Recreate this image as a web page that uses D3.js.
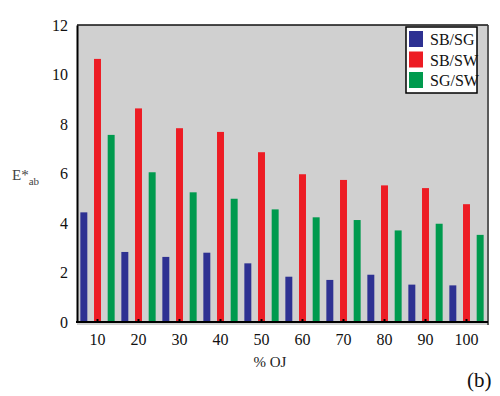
<!DOCTYPE html>
<html>
<head>
<meta charset="utf-8">
<script src="https://cdn.jsdelivr.net/npm/d3@7/dist/d3.min.js"></script>
<style>
  html, body { margin: 0; padding: 0; background: #fff; }
  svg text { font-family: "Liberation Serif", "Times New Roman", serif; }
</style>
</head>
<body>
<svg id="chart" width="500" height="396"></svg>
<script>
// Colour difference per orange-juice concentration
const categories = ["10", "20", "30", "40", "50", "60", "70", "80", "90", "100"];
const seriesNames = ["SB/SG", "SB/SW", "SG/SW"];
const sbsg = [4.43, 2.83, 2.63, 2.80, 2.37, 1.83, 1.70, 1.91, 1.51, 1.48];
const sbsw = [10.63, 8.63, 7.83, 7.68, 6.86, 5.97, 5.74, 5.52, 5.41, 4.76];
const sgsw = [7.56, 6.05, 5.24, 4.98, 4.55, 4.23, 4.12, 3.70, 3.97, 3.52];
const yTicks = [0, 2, 4, 6, 8, 10, 12];
const colors = ["#2e3192", "#ed1c24", "#009a4e"];

const seriesValues = [sbsg, sbsw, sgsw];
const rows = categories.map((c, i) => ({
  cat: c,
  values: seriesNames.map((s, k) => ({ key: s, value: seriesValues[k][i] }))
}));

const svg = d3.select("#chart");
const m = { left: 77, right: 487, top: 25, bottom: 322 };

const x = d3.scaleBand().domain(categories).range([m.left, m.right]).padding(0);
const xInner = d3.scaleBand().domain(seriesNames).range([0, x.bandwidth()])
  .paddingInner(0.49).paddingOuter(0.245);
const y = d3.scaleLinear().domain([0, 12]).range([m.bottom, m.top]);
const color = d3.scaleOrdinal().domain(seriesNames).range(colors);

// plot background
svg.append("rect")
  .attr("x", m.left).attr("y", m.top)
  .attr("width", m.right - m.left + 2).attr("height", m.bottom - m.top + 3)
  .attr("fill", "#d0d0d0");

// bars
svg.append("g").selectAll("g")
  .data(rows).join("g")
  .attr("transform", d => `translate(${x(d.cat)},0)`)
  .selectAll("rect")
  .data(d => d.values).join("rect")
  .attr("x", d => xInner(d.key))
  .attr("width", xInner.bandwidth())
  .attr("y", d => y(d.value))
  .attr("height", d => y(0) - y(d.value))
  .attr("fill", d => color(d.key));

// frame
svg.append("line").attr("x1", m.left).attr("x2", m.right + 1)
  .attr("y1", m.top).attr("y2", m.top).attr("stroke", "#111").attr("stroke-width", 1.5);
svg.append("line").attr("x1", m.right + 1).attr("x2", m.right + 1)
  .attr("y1", m.top).attr("y2", m.bottom + 3).attr("stroke", "#333").attr("stroke-width", 1.5);

// y axis
const yAxis = d3.axisLeft(y).tickValues(yTicks).tickSize(0).tickPadding(9);
const gy = svg.append("g").attr("transform", `translate(${m.left},0)`).call(yAxis)
  .attr("font-family", null);
gy.select(".domain").attr("stroke", "#000").attr("stroke-width", 2);
gy.selectAll("text").style("font-size", "16px").attr("fill", "#111");

// x axis with small inward ticks
const xAxis = d3.axisBottom(x).tickSize(-3).tickPadding(12);
const gx = svg.append("g").attr("transform", `translate(0,${m.bottom})`).call(xAxis)
  .attr("font-family", null);
gx.select(".domain").attr("stroke", "#000").attr("stroke-width", 2)
  .attr("d", `M${m.left - 1},0H${m.right + 1}`);
gx.selectAll(".tick line").attr("stroke", "#000").attr("stroke-width", 2);
gx.selectAll("text").style("font-size", "16px").attr("fill", "#111");

// axis titles
svg.append("text").attr("x", 270).attr("y", 367).attr("text-anchor", "middle")
  .style("font-size", "15px").attr("fill", "#222").text("% OJ");

const yl = svg.append("text").attr("x", 12).attr("y", 180)
  .style("font-size", "15px").attr("fill", "#444");
yl.append("tspan").text("E*");
yl.append("tspan").attr("dy", 5).style("font-size", "11px").text("ab");

svg.append("text").attr("x", 467).attr("y", 387)
  .style("font-size", "21px").attr("fill", "#111").text("(b)");

// legend
const lg = svg.append("g");
lg.append("rect").attr("x", 406).attr("y", 27).attr("width", 71).attr("height", 66)
  .attr("fill", "#fff").attr("stroke", "#000").attr("stroke-width", 1.5);
const li = lg.selectAll("g").data(seriesNames).join("g")
  .attr("transform", (d, i) => `translate(409,${31 + i * 20.5})`);
li.append("rect").attr("width", 14).attr("height", 16).attr("fill", d => color(d));
li.append("text").attr("x", 21).attr("y", 14).style("font-size", "16px")
  .attr("fill", "#111").text(d => d);
</script>
</body>
</html>
